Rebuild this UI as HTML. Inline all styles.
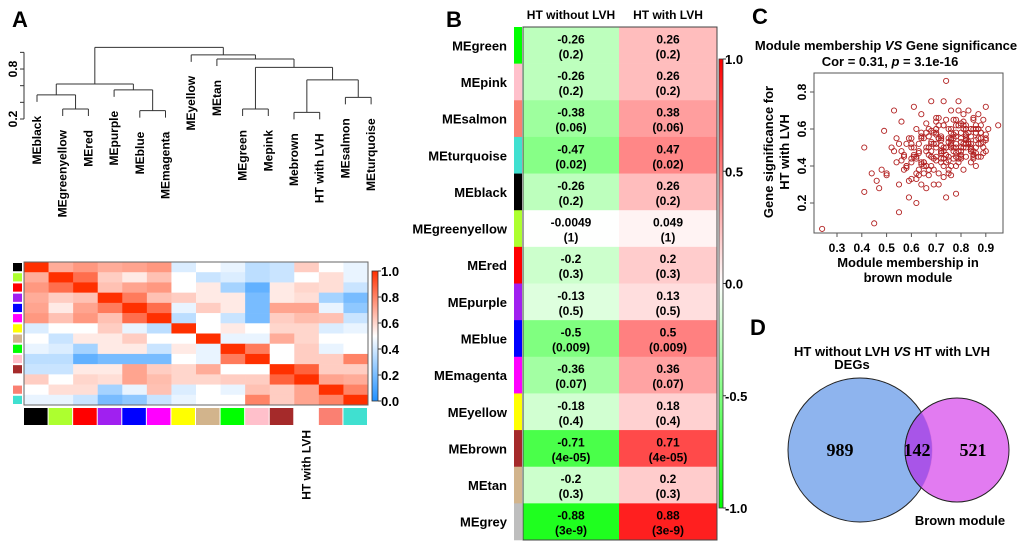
<!DOCTYPE html>
<html><head><meta charset="utf-8">
<style>
html,body{margin:0;padding:0;background:#fff;}
svg{display:block;font-family:"Liberation Sans",Arial,sans-serif;font-weight:bold;}
</style></head>
<body>
<svg id="fig" width="1020" height="547" viewBox="0 0 1020 547" xmlns="http://www.w3.org/2000/svg">
<text x="12" y="27" font-size="22">A</text>
<text x="446" y="27" font-size="22">B</text>
<text x="752" y="24" font-size="22">C</text>
<text x="750" y="335" font-size="22">D</text>
<g id="dendro"></g>
<g id="heatA"></g>
<g id="tabB"></g>
<g id="scat"></g>
<g id="venn">
  <circle cx="860" cy="450" r="72" fill="#8eb4ee" stroke="#222" stroke-width="1"/>
  <circle cx="957" cy="450" r="52" fill="#e070f0" fill-opacity="0.92" stroke="#222" stroke-width="1"/>
  <clipPath id="cpv"><circle cx="860" cy="450" r="72"/></clipPath>
  <circle cx="957" cy="450" r="52" fill="#a855e8" clip-path="url(#cpv)" stroke="#222"/>
  <text x="892" y="356" font-size="13" text-anchor="middle">HT without LVH <tspan font-style="italic">VS</tspan> HT with LVH</text>
  <text x="852" y="369" font-size="13" text-anchor="middle">DEGs</text>
  <text x="960" y="525" font-size="13" text-anchor="middle">Brown module</text>
  <text x="840" y="456" font-size="18" text-anchor="middle" font-family="Liberation Serif,serif">989</text>
  <text x="917" y="456" font-size="18" text-anchor="middle" font-family="Liberation Serif,serif">142</text>
  <text x="973" y="456" font-size="18" text-anchor="middle" font-family="Liberation Serif,serif">521</text>
</g>
</svg>
<script>
const NS="http://www.w3.org/2000/svg";
function mk(p,tag,at){const e=document.createElementNS(NS,tag);for(const k in at)e.setAttribute(k,at[k]);p.appendChild(e);return e;}

// ---------- Panel A dendrogram ----------
const leafNames=["MEblack","MEgreenyellow","MEred","MEpurple","MEblue","MEmagenta","MEyellow","MEtan","MEgreen","Mepink","Mebrown","HT with LVH","MEsalmon","MEturquoise"];
const dendroTicks=[0.2,0.4,0.6,0.8,1.0];
const merges=[[1,2,0.32],[0,"m0",0.49],[4,5,0.30],[3,"m2",0.55],["m1","m3",0.62],[8,9,0.32],[10,11,0.28],[12,13,0.46],["m6","m7",0.67],["m5","m8",0.82],[7,"m9",0.92],[6,"m10",0.97],["m4","m11",1.06]];
const dY=v=>119-(v-0.2)*83.3;
const dX=i=>37+i*25.7;
const dg=document.getElementById('dendro');
mk(dg,'line',{x1:24,x2:24,y1:dY(1.0),y2:dY(0.2),stroke:'#333'});
dendroTicks.forEach(t=>{mk(dg,'line',{x1:20,x2:24,y1:dY(t),y2:dY(t),stroke:'#333'});});
[0.2,0.8].forEach(t=>{const tx=mk(dg,'text',{x:0,y:0,'font-size':12,'text-anchor':'middle',transform:`translate(17,${dY(t)}) rotate(-90)`});tx.textContent=t.toFixed(1);

});
const nodes=[];
function pos(n){ if(typeof n==='number') return null; return nodes[+n.slice(1)]; }
merges.forEach(m=>{
  const h=dY(m[2]); const ends=[];
  [m[0],m[1]].forEach(c=>{
    let x,y;
    if(typeof c==='number'){x=dX(c);y=h+7;}
    else {const p=pos(c);x=p.x;y=p.y;}
    mk(dg,'line',{x1:x,x2:x,y1:h,y2:y,stroke:'#333'});
    ends.push(x);
  });
  mk(dg,'line',{x1:ends[0],x2:ends[1],y1:h,y2:h,stroke:'#333'});
  nodes.push({x:(ends[0]+ends[1])/2,y:h});
});
const leafTop=new Array(14);
merges.forEach(m=>{[m[0],m[1]].forEach(c=>{if(typeof c==='number')leafTop[c]=dY(m[2])+7;});});
leafNames.forEach((n,i)=>{
  const t=mk(dg,'text',{x:0,y:0,'font-size':12,'text-anchor':'end',transform:`translate(${dX(i)+4},${leafTop[i]+14}) rotate(-90)`});
  t.textContent=n;
  
  
});

// ---------- Panel A heatmap ----------
const modColors=["#000000","#adff2f","#ff0000","#a020f0","#0000ff","#ff00ff","#ffff00","#d2b48c","#00ff00","#ffc0cb","#a52a2a","#ffffff","#fa8072","#40e0d0"];
const adj=[
[1,.7,.75,.7,.72,.75,.42,.5,.45,.35,.38,.62,.5,.45],
[.7,1,.85,.62,.55,.65,.5,.38,.42,.35,.38,.5,.58,.45],
[.75,.85,1,.65,.72,.75,.5,.55,.3,.15,.55,.6,.58,.38],
[.7,.62,.65,1,.82,.65,.62,.55,.55,.2,.55,.58,.3,.2],
[.72,.55,.72,.82,1,.85,.45,.62,.55,.2,.72,.72,.45,.25],
[.75,.65,.75,.65,.85,1,.35,.5,.38,.2,.62,.66,.65,.38],
[.42,.5,.5,.62,.45,.35,1,.5,.55,.5,.6,.6,.42,.45],
[.5,.38,.55,.55,.62,.5,.5,1,.45,.45,.7,.6,.5,.5],
[.45,.42,.3,.55,.55,.38,.55,.45,1,.82,.5,.62,.45,.5],
[.35,.35,.15,.2,.2,.2,.5,.45,.82,1,.5,.62,.62,.8],
[.38,.38,.55,.55,.72,.62,.6,.7,.5,.5,1,.88,.62,.62],
[.62,.5,.6,.58,.72,.66,.6,.6,.62,.62,.88,1,.72,.7],
[.5,.58,.58,.3,.45,.65,.42,.5,.45,.65,.62,.72,1,.8],
[.45,.45,.38,.2,.25,.38,.45,.5,.5,.8,.62,.72,.8,1]];
const adjTicks=[0,0.2,0.4,0.6,0.8,1.0];
function blueRed(v){
  if(v<0.5){const t=v/0.5;return `rgb(${Math.round(30+225*t)},${Math.round(144+111*t)},255)`;}
  const t=(v-0.5)/0.5;return `rgb(255,${Math.round(255-207*t)},${Math.round(255-255*t)})`;
}
const hg=document.getElementById('heatA');
const hx0=24,hy0=262,cw=344/14,ch=143/14;
adj.forEach((row,r)=>row.forEach((v,c)=>{
  const e=mk(hg,'rect',{x:hx0+c*cw,y:hy0+r*ch,width:cw+0.3,height:ch+0.3,fill:blueRed(v)});
  
  
}));
mk(hg,'rect',{x:hx0,y:hy0,width:344,height:143,fill:'none',stroke:'#666'});
modColors.forEach((c,i)=>{
  const a=mk(hg,'rect',{x:13,y:hy0+i*ch+1,width:9,height:ch-2,fill:c});
  
  
  const b=mk(hg,'rect',{x:hx0+i*cw,y:408,width:cw-1,height:17,fill:c});
  
  
});
const ht=mk(hg,'text',{x:0,y:0,'font-size':12,'text-anchor':'end',transform:`translate(${hx0+11.5*cw+4},430) rotate(-90)`});
ht.textContent="HT with LVH";


const defs=mk(document.getElementById('fig'),'defs',{});
const gA=mk(defs,'linearGradient',{id:'gA',x1:0,y1:1,x2:0,y2:0});
[0,0.25,0.5,0.75,1].forEach(s=>mk(gA,'stop',{offset:s,'stop-color':blueRed(s)}));
const cbY=v=>401-v*130;
mk(hg,'rect',{x:372,y:271,width:6,height:130,fill:'url(#gA)',stroke:'#333','stroke-width':0.8});
adjTicks.forEach(t=>{mk(hg,'line',{x1:378,x2:381,y1:cbY(t),y2:cbY(t),stroke:'#333'});
  const tx=mk(hg,'text',{x:381,y:cbY(t)+5,'font-size':13});tx.textContent=t.toFixed(1);
  
  });

// ---------- Panel B ----------
const bRows=["MEgreen","MEpink","MEsalmon","MEturquoise","MEblack","MEgreenyellow","MEred","MEpurple","MEblue","MEmagenta","MEyellow","MEbrown","MEtan","MEgrey"];
const bRowColors=["#00ff00","#ffc0cb","#fa8072","#40e0d0","#000000","#adff2f","#ff0000","#a020f0","#0000ff","#ff00ff","#ffff00","#a52a2a","#d2b48c","#bebebe"];
const corWith=[0.26,0.26,0.38,0.47,0.26,0.049,0.2,0.13,0.5,0.36,0.18,0.71,0.2,0.88];
const corWithout=[-0.26,-0.26,-0.38,-0.47,-0.26,-0.0049,-0.2,-0.13,-0.5,-0.36,-0.18,-0.71,-0.2,-0.88];
const pvals=["0.2","0.2","0.06","0.02","0.2","1","0.3","0.5","0.009","0.07","0.4","4e-05","0.3","3e-9"];
const bTicks=[-1.0,-0.5,0.0,0.5,1.0];
function gwr(v){const a=Math.min(1,Math.abs(v));
  if(v<0)return `rgb(${Math.round(255*(1-a))},255,${Math.round(255*(1-a))})`;
  return `rgb(255,${Math.round(255*(1-a))},${Math.round(255*(1-a))})`;}
const bg=document.getElementById('tabB');
const bx0=523,bx1=619,bx2=717,by0=27,rh=(540-27)/14;
[["HT without LVH",(bx0+bx1)/2],["HT with LVH",(bx1+bx2)/2]].forEach(([s,x])=>{
  const t=mk(bg,'text',{x:x,y:19,'font-size':12,'text-anchor':'middle'});t.textContent=s;
  
  });
bRows.forEach((n,i)=>{
  const y=by0+i*rh;
  [[corWithout[i],bx0,bx1],[corWith[i],bx1,bx2]].forEach(([v,xa,xb])=>{
    const r=mk(bg,'rect',{x:xa,y:y,width:xb-xa,height:rh+0.3,fill:gwr(v)});
    
    
    const t1=mk(bg,'text',{x:(xa+xb)/2,y:y+rh/2-2,'font-size':12,'text-anchor':'middle'});t1.textContent=String(v);
    
    
    const t2=mk(bg,'text',{x:(xa+xb)/2,y:y+rh/2+13,'font-size':12,'text-anchor':'middle'});t2.textContent="("+pvals[i]+")";
    
    
  });
  const c=mk(bg,'rect',{x:514,y:y,width:8,height:rh+0.3,fill:bRowColors[i]});
  
  
  const l=mk(bg,'text',{x:507,y:y+rh/2+5,'font-size':13,'text-anchor':'end'});l.textContent=n;
  
  
});
mk(bg,'rect',{x:bx0,y:by0,width:bx2-bx0,height:540-by0,fill:'none',stroke:'#444'});
const gB=mk(defs,'linearGradient',{id:'gB',x1:0,y1:1,x2:0,y2:0});
[[0,'#00ff00'],[0.5,'#ffffff'],[1,'#ff0000']].forEach(s=>mk(gB,'stop',{offset:s[0],'stop-color':s[1]}));
const bcY=v=>283.5-v*224.5;
mk(bg,'rect',{x:719,y:59,width:4,height:449,fill:'url(#gB)',stroke:'#333','stroke-width':0.8});
bTicks.forEach(t=>{mk(bg,'line',{x1:723,x2:726,y1:bcY(t),y2:bcY(t),stroke:'#333'});
  const tx=mk(bg,'text',{x:725,y:bcY(t)+5,'font-size':13});tx.textContent=t.toFixed(1);
  
  });

// ---------- Panel C scatter ----------
const mmX=[0.24,0.41,0.45,0.47,0.44,0.41,0.49,0.5,0.53,0.53,0.55,0.55,0.56,0.57,0.58,0.58,0.59,0.6,0.6,0.61,0.62,0.62,0.63,0.63,0.64,0.64,0.65,0.65,0.66,0.66,0.67,0.67,0.68,0.68,0.69,0.69,0.7,0.7,0.71,0.71,0.72,0.72,0.73,0.73,0.74,0.74,0.75,0.75,0.76,0.76,0.77,0.77,0.78,0.78,0.79,0.79,0.8,0.8,0.81,0.81,0.82,0.82,0.83,0.83,0.84,0.84,0.85,0.85,0.86,0.86,0.87,0.87,0.88,0.88,0.89,0.89,0.9,0.9,0.95,0.74,0.72,0.7,0.68,0.66,0.64,0.62,0.6,0.58,0.56,0.54,0.52,0.5,0.48,0.46,0.76,0.78,0.8,0.82,0.84,0.86,0.88,0.9,0.71,0.73,0.75,0.77,0.79,0.81,0.83,0.85,0.87,0.69,0.67,0.65,0.63,0.61,0.59,0.57,0.55,0.7,0.72,0.74,0.76,0.78,0.8,0.82,0.84,0.86,0.88,0.72,0.75,0.78,0.81,0.84,0.87,0.7,0.73,0.76,0.79,0.82,0.85,0.68,0.66,0.64,0.62,0.6,
0.61,0.63,0.65,0.67,0.69,0.71,0.73,0.75,0.77,0.79,0.81,0.83,0.85,0.87,0.89,0.62,0.64,0.66,0.68,0.7,0.72,0.74,0.76,0.78,0.8,0.82,0.84,0.86,0.88,0.6,0.63,0.66,0.69,0.72,0.75,0.78,0.81,0.84,0.87,0.9,0.65,0.68,0.71,0.74,0.77,0.8,0.83,0.86,0.89,0.67,0.7,0.73,0.76,0.79,0.82,0.85,0.88,0.57,0.59,0.61,0.64,0.67,0.7,0.73,0.76,0.79,0.82,0.85,0.72,0.74,0.76,0.78,0.8,0.82,0.84,0.86,0.71,0.73,0.75,0.77,0.79,0.81,0.83,0.85,0.68,0.7,0.72,0.74,0.76,0.78,0.8,0.54,0.56,0.58,0.6,0.62,0.64,0.66,0.68,0.7,0.72,0.74,0.76,0.78,0.8,0.82,0.84,0.86,0.88,0.9,0.91];
const gsY=[0.06,0.5,0.09,0.28,0.36,0.26,0.59,0.35,0.7,0.48,0.15,0.3,0.64,0.45,0.52,0.4,0.23,0.55,0.33,0.72,0.2,0.6,0.47,0.38,0.68,0.3,0.55,0.42,0.63,0.28,0.5,0.35,0.75,0.45,0.58,0.38,0.52,0.43,0.66,0.3,0.48,0.56,0.75,0.4,0.86,0.23,0.6,0.45,0.7,0.35,0.55,0.48,0.65,0.25,0.75,0.42,0.58,0.5,0.68,0.38,0.62,0.45,0.7,0.52,0.56,0.42,0.65,0.48,0.6,0.4,0.68,0.52,0.58,0.45,0.65,0.5,0.72,0.55,0.62,0.5,0.44,0.6,0.4,0.5,0.56,0.44,0.5,0.4,0.48,0.42,0.5,0.36,0.38,0.32,0.5,0.62,0.55,0.6,0.5,0.58,0.55,0.48,0.55,0.62,0.38,0.5,0.44,0.64,0.52,0.46,0.6,0.52,0.46,0.42,0.35,0.5,0.55,0.46,0.52,0.6,0.48,0.65,0.52,0.56,0.46,0.6,0.52,0.5,0.58,0.47,0.53,0.45,0.6,0.5,0.55,0.57,0.62,0.4,0.48,0.54,0.6,0.48,0.4,0.55,0.45,0.52,
0.45,0.52,0.36,0.6,0.44,0.62,0.34,0.55,0.44,0.62,0.5,0.58,0.46,0.6,0.53,0.33,0.58,0.4,0.52,0.64,0.42,0.5,0.58,0.4,0.63,0.56,0.48,0.54,0.62,0.42,0.48,0.58,0.3,0.55,0.36,0.47,0.52,0.6,0.45,0.57,0.4,0.45,0.36,0.5,0.65,0.45,0.53,0.58,0.47,0.56,0.66,0.48,0.55,0.62,0.5,0.44,0.52,0.38,0.32,0.46,0.41,0.38,0.58,0.44,0.5,0.7,0.55,0.66,0.47,0.42,0.51,0.58,0.44,0.52,0.6,0.47,0.55,0.5,0.43,0.57,0.48,0.62,0.52,0.45,0.59,0.5,0.54,0.46,0.6,0.52,0.48,0.55,0.43,0.39,0.44,0.36,0.42,0.48,0.53,0.45,0.51,0.46,0.54,0.5,0.53,0.57,0.49,0.62,0.58,0.54,0.6,0.56,0.5,0.55];
const xTicks=[0.3,0.4,0.5,0.6,0.7,0.8,0.9];
const yTicks=[0.2,0.4,0.6,0.8];
const sx=v=>837+(v-0.3)*248;
const sy=v=>92+(0.8-v)*185;
const sg=document.getElementById('scat');
mk(sg,'rect',{x:814,y:73,width:189,height:160,fill:'none',stroke:'#555'});
const n=Math.min(mmX.length,gsY.length);
for(let i=0;i<n;i++){
  const p=mk(sg,'circle',{cx:sx(mmX[i]),cy:sy(gsY[i]),r:2.6,fill:'none',stroke:'#b22222','stroke-width':0.9});
  
  
}
xTicks.forEach(t=>{mk(sg,'line',{x1:sx(t),x2:sx(t),y1:233,y2:237,stroke:'#555'});
  const tx=mk(sg,'text',{x:sx(t),y:252,'font-size':12,'text-anchor':'middle'});tx.textContent=t.toFixed(1);
  
  });
yTicks.forEach(t=>{mk(sg,'line',{x1:810,x2:814,y1:sy(t),y2:sy(t),stroke:'#555'});
  const tx=mk(sg,'text',{x:0,y:0,'font-size':12,'text-anchor':'middle',transform:`translate(806,${sy(t)}) rotate(-90)`});tx.textContent=t.toFixed(1);
  
  });
function txt(g,x,y,s,name,extra){const t=mk(g,'text',Object.assign({x:x,y:y,'font-size':13,'text-anchor':'middle'},extra||{}));t.innerHTML=s;
  
  return t;}
txt(sg,886,50,'Module membership <tspan font-style="italic">VS</tspan> Gene significance','chart-title');
txt(sg,890,66,'Cor = 0.31, <tspan font-style="italic">p</tspan> = 3.1e-16','chart-subtitle');
txt(sg,908,267,'Module membership in','x-axis-title');
txt(sg,908,282,'brown module','x-axis-title-line2');
txt(sg,0,0,'Gene significance for','y-axis-title',{transform:'translate(773,152) rotate(-90)'});
txt(sg,0,0,'HT with LVH','y-axis-title-line2',{transform:'translate(789,152) rotate(-90)'});
</script>
</body></html>
